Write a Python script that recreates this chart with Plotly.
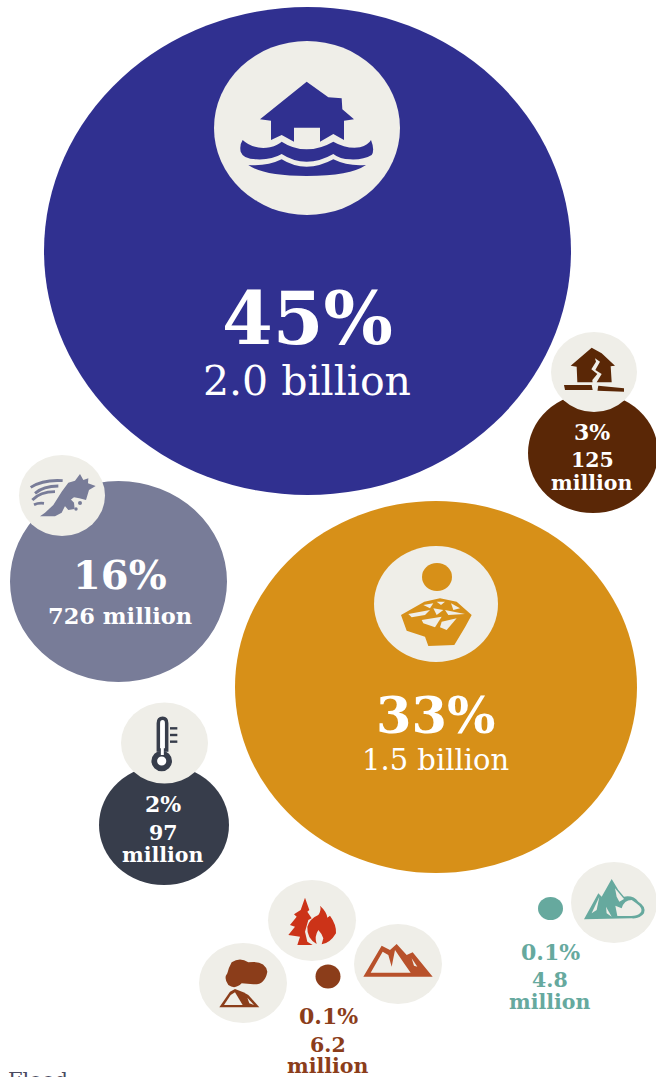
import re
import plotly.graph_objects as go

# ---- data ----
categories = ["Flood", "Storm", "Drought", "Earthquake", "Extreme temperature",
              "Wildfire, volcano and landslide", "Mass movement"]
shares = ["45%", "16%", "33%", "3%", "2%", "0.1%", "0.1%"]
people = ["2.0 billion", "726 million", "1.5 billion", "125 million", "97 million",
          "6.2 million", "4.8 million"]
footer_label = "Flood"

# ---- layout and style, in page pixels (cx, cy, rx, ry) ----
BG = "#EFEEE8"
bubble = {
    "Flood": (307.5, 251, 263.5, 244, "#303090"),
    "Storm": (118.5, 581.5, 108.5, 100.5, "#787C98"),
    "Drought": (436, 687, 201, 186, "#D79018"),
    "Earthquake": (593, 453, 65, 60, "#5A2706"),
    "Extreme temperature": (164, 825, 65, 60, "#373D4B"),
    "Wildfire, volcano and landslide": (328, 976.5, 12.5, 12, "#8B3D1A"),
    "Mass movement": (550.5, 908.5, 12.5, 11.5, "#66A99E"),
}
discs = [
    (307, 128, 93, 87), (594, 372, 43, 40), (62, 495.5, 43, 40.5), (436, 604, 62, 58),
    (164.5, 743, 43.5, 40.5), (312, 920.5, 44, 40.5), (398, 964, 44, 40),
    (243, 983, 44, 40), (614, 902.5, 43, 40.5),
]
label_style = {
    "Flood": dict(x=307, pct_y=318, ppl_y=[381], pct_size=73, ppl_size=41, color="white", ppl_bold=False),
    "Storm": dict(x=120, pct_y=574, ppl_y=[616], pct_size=40, ppl_size=22.5, color="white", ppl_bold=True),
    "Drought": dict(x=435, pct_y=715, ppl_y=[760], pct_size=51, ppl_size=29, color="white", ppl_bold=False),
    "Earthquake": dict(x=592, pct_y=432, ppl_y=[460, 483], pct_size=22, ppl_size=20.5, color="white", ppl_bold=True),
    "Extreme temperature": dict(x=163, pct_y=804, ppl_y=[833, 855], pct_size=22, ppl_size=20.5, color="white", ppl_bold=True),
    "Wildfire, volcano and landslide": dict(x=328, pct_y=1016, ppl_y=[1045, 1066], pct_size=22, ppl_size=20.5, color="#8B3D1A", ppl_bold=True),
    "Mass movement": dict(x=550, pct_y=952, ppl_y=[980, 1002], pct_size=22, ppl_size=20.5, color="#66A99E", ppl_bold=True),
}

FONT = "DejaVu Serif"
shapes = []


def ell(cx, cy, rx, ry, color):
    shapes.append(dict(type="circle", xref="x", yref="y", x0=cx - rx, x1=cx + rx, y0=cy - ry, y1=cy + ry,
                       fillcolor=color, line=dict(width=0), layer="above"))


def glyph(d, ox, oy, fill=None, stroke=None, width=0):
    """Icon path traced at 3x zoom, with (ox, oy) the origin of that trace."""
    out = []
    for tok in re.findall(r"[A-Z]|-?\d+\.?\d*\s+-?\d+\.?\d*", d):
        if tok.isalpha():
            out.append(tok)
        else:
            a, b = tok.split()
            out.append(f"{float(a) / 3 + ox:.2f},{float(b) / 3 + oy:.2f}")
    shapes.append(dict(type="path", xref="x", yref="y", path=" ".join(out), layer="above",
                       fillcolor=fill if fill else "rgba(0,0,0,0)",
                       line=dict(color=stroke if stroke else "rgba(0,0,0,0)", width=width)))


for name in categories:
    cx, cy, rx, ry, col = bubble[name]
    ell(cx, cy, rx, ry, col)
for d in discs:
    ell(*d, BG)

# flood
F = bubble["Flood"][4]
glyph("M320 65 L385 112 L425 115 L427 148 L462 178 L432 182 L432 240 L400 222 L360 245 L360 203 L282 203 L282 245 L245 225 L213 240 L213 182 L180 178 Z", 200, 60, F)
glyph("M128 240 Q160 270 210 262 Q235 255 245 245 Q280 268 320 268 Q360 268 400 245 Q440 268 480 262 Q505 255 513 240 Q525 270 515 285 Q490 300 450 298 Q420 298 400 282 Q360 305 320 305 Q280 305 245 282 Q215 300 170 298 Q130 298 122 275 Q118 255 128 240 Z", 200, 60, F)
glyph("M145 315 Q200 320 245 298 Q280 320 320 320 Q360 320 400 298 Q445 320 498 315 Q450 348 320 348 Q190 348 145 315 Z", 200, 60, F)

# earthquake
E = bubble["Earthquake"][4]
glyph("M215 68 L245 85 L285 122 L272 124 L275 172 L172 172 L170 125 L152 122 Z", 520, 325, E)
glyph("M132 180 L215 180 L218 195 L135 195 Z", 520, 325, E)
glyph("M235 182 L312 190 L312 200 L232 197 Z", 520, 325, E)
glyph("M225 100 L240 110 L226 135 L245 147 L230 172 L232 200 L220 200 L217 165 L232 147 L214 133 L228 110 Z", 520, 325, BG)

# storm
S = bubble["Storm"][4]
for d in ["M92 112 Q130 88 188 92", "M105 130 Q130 108 175 108", "M97 150 Q120 125 165 125", "M102 164 Q115 158 132 160"]:
    glyph(d, 0, 450, None, S, 2.8)
glyph("M240 72 L250 90 L265 85 L264 100 L287 108 L267 120 L258 150 L238 145 L222 142 L200 158 L185 188 L165 199 L120 199 L135 188 L160 165 L185 125 L205 98 L225 92 Z", 0, 450, S)
glyph("M205 140 L222 158 L224 177 L205 180 L192 165 Z", 0, 450, S)
ell(80, 503, 2, 2, S)
ell(76, 509, 1.7, 1.7, S)

# drought
D = bubble["Drought"][4]
ell(437, 577, 15, 14, D)
glyph("M178 185 L225 175 L275 185 L320 225 L300 262 L268 315 L190 318 L180 290 L125 272 L108 225 Z", 365, 540, D)
for d in ["M175 195 L205 190 L195 205 Z", "M215 185 L240 185 L228 195 Z", "M258 190 L285 205 L265 210 Z",
          "M205 205 L235 210 L215 225 Z", "M240 210 L300 222 L250 225 Z", "M130 222 L195 210 L180 225 L140 232 Z",
          "M170 240 L230 230 L210 262 L175 250 Z", "M230 245 L275 235 L245 270 L225 262 Z"]:
    glyph(d, 365, 540, BG)

# temperature
T = bubble["Extreme temperature"][4]
glyph("M205 150 L205 70 Q205 55 218 55 Q230 55 230 70 L230 150 L205 150 Z", 90, 700, "white", T, 3.5)
ell(161.7, 761, 10.3, 10.3, T)
ell(161.7, 761, 4.6, 4.6, "white")
glyph("M217 70 L217 165", 90, 700, None, "white", 3)
for y in (85, 105, 125):
    glyph(f"M240 {y} L262 {y}", 90, 700, None, T, 2.4)

# fire
R = "#CC3318"
glyph("M345 68 L358 105 L352 110 L365 130 L355 135 L345 170 L352 200 L368 210 L322 210 L330 185 L295 180 L315 155 L300 150 L320 125 L312 118 L332 105 Z", 190, 875, R)
glyph("M390 92 Q410 110 412 128 L420 122 Q440 150 438 175 Q420 205 395 208 L400 190 Q395 175 385 165 Q372 185 380 207 Q350 190 352 155 Q360 130 385 120 Q395 105 390 92 Z", 190, 875, R)

# landslide
L = "#B8512B"
glyph("M520 305 L575 212 L600 225 L620 207 L650 240 L668 232 L728 305 Z", 190, 875, L)
glyph("M542 293 L578 230 L595 240 L605 275 L615 225 L640 262 L662 293 Z", 190, 875, BG)
glyph("M665 250 L682 275 L672 272 Z", 190, 875, BG)

# volcano
V = bubble["Wildfire, volcano and landslide"][4]
glyph("M125 262 Q150 245 175 262 Q225 255 232 290 Q225 330 190 328 L155 325 Q135 345 115 330 Q100 310 112 295 Q115 280 125 262 Z", 190, 875, V)
glyph("M88 397 L120 350 L135 342 L160 352 L175 360 L208 397 Z", 190, 875, V)
glyph("M102 390 L122 360 L135 352 L158 390 Z", 190, 875, BG)
glyph("M172 368 L192 390 L178 385 Z", 190, 875, BG)

# mass movement
M = bubble["Mass movement"][4]
glyph("M252 193 L295 115 L305 125 L335 72 L355 105 L372 125 Q400 120 415 140 Q440 155 432 175 Q420 192 395 190 Z", 500, 855, M)
glyph("M352 183 L346 152 L365 160 Q372 135 395 135 Q410 145 418 152 Q430 165 420 175 Q410 184 390 183 Z", 500, 855, BG)
glyph("M345 100 L372 132 L358 140 L350 125 Z", 500, 855, BG)
glyph("M275 175 L298 125 L290 165 Z", 500, 855, BG)
glyph("M318 155 L335 185 L320 175 Z", 500, 855, BG)

# text
ann = []


def text(x, y, s, size, color, bold=True, xanchor="center", yanchor="middle"):
    ann.append(dict(x=x, y=y, xref="x", yref="y", text=f"<b>{s}</b>" if bold else s, showarrow=False,
                    xanchor=xanchor, yanchor=yanchor,
                    font=dict(family=FONT, size=size, color=color)))


for name, pct, ppl in zip(categories, shares, people):
    st = label_style[name]
    text(st["x"], st["pct_y"], pct, st["pct_size"], st["color"])
    parts = [ppl] if len(st["ppl_y"]) == 1 else ppl.split(" ")
    for y, part in zip(st["ppl_y"], parts):
        text(st["x"], y, part, st["ppl_size"], st["color"], st["ppl_bold"])
text(6, 1066, footer_label, 21, "#4A4A60", False, "left", "top")

fig = go.Figure()
fig.update_layout(
    width=656, height=1077, margin=dict(l=0, r=0, t=0, b=0),
    paper_bgcolor="white", plot_bgcolor="white", showlegend=False,
    xaxis=dict(range=[0, 656], visible=False, fixedrange=True),
    yaxis=dict(range=[1077, 0], visible=False, fixedrange=True),
    shapes=shapes, annotations=ann,
)
fig.write_html("out.html", config=dict(displayModeBar=False),
               post_script="document.body.style.margin='0';document.body.style.overflow='hidden';")
